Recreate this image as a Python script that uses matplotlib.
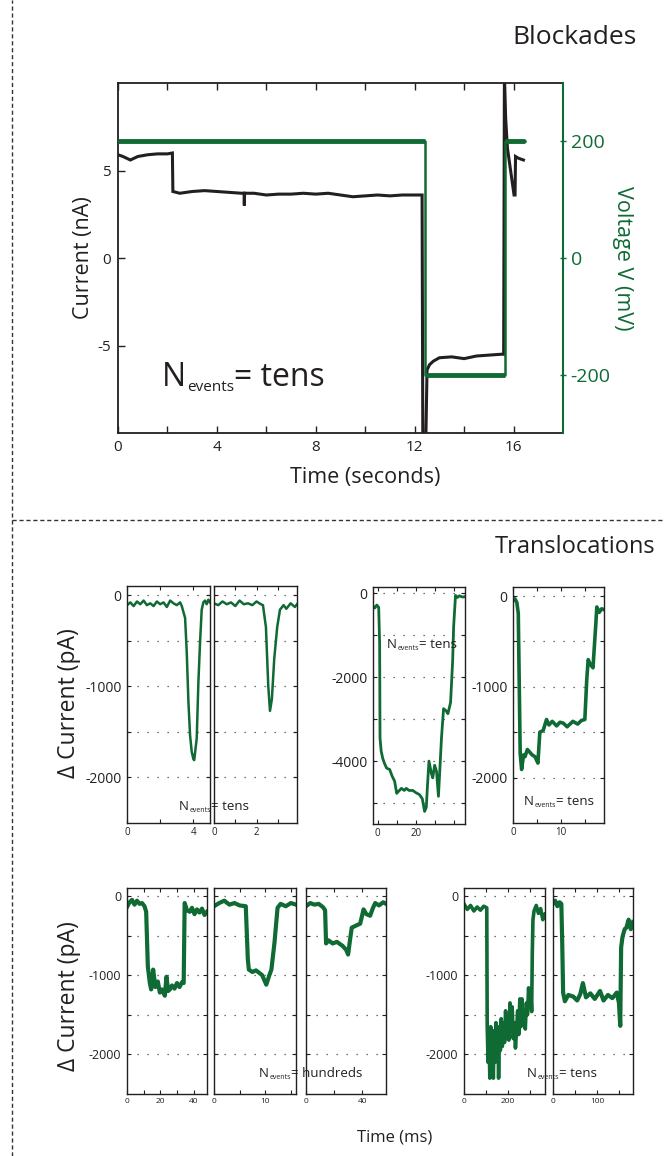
import matplotlib
matplotlib.use('Agg')
import matplotlib.pyplot as plt
from matplotlib.lines import Line2D
from matplotlib.transforms import IdentityTransform

plt.rcParams['font.family'] = ['Open Sans', 'DejaVu Sans']
plt.rcParams['axes.unicode_minus'] = False

# ---------------- data ----------------
# Blockades panel
blk_t = [0, 0.2, 0.5, 0.8, 1.2, 1.6, 2.0, 2.2, 2.22, 2.5, 3.0, 3.5, 4.0, 4.5, 5.0, 5.1, 5.11, 5.12, 5.5,
         6.0, 6.5, 7.0, 7.5, 8.0, 8.5, 9.0, 9.5, 10.0, 10.5, 11.0, 11.5, 12.0, 12.3, 12.33, 12.45, 12.5,
         12.6, 12.75, 13.0, 13.5, 14.0, 14.5, 15.0, 15.5, 15.6, 15.63, 15.68, 15.75, 15.85, 15.95, 16.02,
         16.06, 16.08, 16.2, 16.4]
blk_i = [5.9, 5.8, 5.6, 5.8, 5.9, 5.95, 5.95, 6.0, 3.8, 3.7, 3.8, 3.85, 3.8, 3.75, 3.7, 3.7, 3.0, 3.7, 3.7,
         3.6, 3.65, 3.65, 3.7, 3.65, 3.7, 3.6, 3.5, 3.55, 3.6, 3.55, 3.6, 3.6, 3.6, -10.5, -10.5, -6.4,
         -6.1, -5.9, -5.7, -5.65, -5.75, -5.6, -5.55, -5.5, -5.5, 10.5, 8.0, 6.3, 5.3, 4.3, 3.6,
         3.6, 5.8, 5.7, 5.6]
volt_t = [0, 12.4, 12.4, 15.65, 15.65, 16.45]
volt_v = [200, 200, -200, -200, 200, 200]
blk_xticks = [0, 2, 4, 6, 8, 10, 12, 14, 16]
blk_xlabels = ['0', '', '4', '', '8', '', '12', '', '16']
blk_yticks = [-5, 0, 5]
volt_ticks = [-200, 0, 200]

# Translocation panels
a1_t = [0, 0.2, 0.4, 0.6, 0.8, 1.0, 1.2, 1.4, 1.6, 1.8, 2.0, 2.2, 2.4, 2.6, 2.8, 3.0, 3.2, 3.3, 3.5, 3.6,
        3.7, 3.8, 3.9, 4.0, 4.05, 4.2, 4.3, 4.4, 4.5, 4.6, 4.7, 4.8, 4.9, 5.0]
a1_v = [-110, -80, -120, -70, -100, -60, -110, -90, -120, -70, -100, -80, -130, -60, -90, -110, -80, -120,
        -250, -630, -1170, -1540, -1720, -1800, -1810, -1570, -960, -520, -160, -80, -60, -100, -50, -80]
a2_t = [0, 0.2, 0.4, 0.6, 0.8, 1.0, 1.2, 1.4, 1.6, 1.8, 2.0, 2.2, 2.3, 2.44, 2.55, 2.63, 2.72, 2.83, 2.97,
        3.1, 3.27, 3.4, 3.6, 3.8, 3.9]
a2_v = [-90, -110, -70, -100, -80, -120, -60, -100, -90, -110, -70, -100, -110, -350, -1000, -1270, -1140,
        -700, -350, -160, -110, -150, -90, -130, -100]
b_t = [-2.5, -1.5, -0.5, 0.5, 1.0, 1.2, 1.8, 2.6, 3.5, 4.7, 6.3, 7.5, 8.9, 10, 11, 12.5, 14, 15, 16.5,
       18.5, 20, 22, 23.5, 24.7, 25.6, 26.2, 27, 28.3, 29, 30, 31, 32, 33.6, 34.7, 36, 37, 38.4, 39.5, 40,
       41, 42, 43, 44.7, 46]
b_v = [-300, -350, -280, -335, -1200, -3450, -3760, -3930, -4050, -4170, -4200, -4350, -4480, -4770, -4720,
       -4650, -4700, -4650, -4700, -4700, -4750, -4800, -4900, -5200, -5100, -4600, -4000, -4300, -4400,
       -4100, -4250, -4840, -3450, -2750, -2800, -2870, -2600, -1600, -800, -50, -100, -60, -90, -80]
c_t = [0, 0.4, 0.8, 1.1, 1.5, 1.8, 2.2, 2.5, 3.0, 3.5, 4.0, 4.6, 5.2, 5.6, 6.3, 7.0, 7.5, 8.2, 9.1, 9.8,
       10.5, 11.3, 12.5, 13.5, 14.3, 15.0, 15.4, 15.7, 16.1, 16.7, 17.3, 17.5, 18.0, 18.5, 19.0]
c_v = [-50, -30, -70, -190, -1730, -1910, -1750, -1770, -1690, -1720, -1750, -1770, -1840, -1500, -1480,
       -1360, -1420, -1380, -1430, -1390, -1400, -1440, -1380, -1410, -1370, -1360, -920, -700, -750, -790,
       -300, -120, -180, -140, -150]
d1_t = [0, 1.5, 3, 4.5, 6, 7.5, 9, 10.5, 11.5, 12.5, 13.7, 14.5, 15.7, 17, 18.5, 19.7, 21, 22.7, 23.7,
        24.7, 25.7, 27, 28.5, 30, 31.5, 33, 34, 34.6, 36, 37.6, 39, 40.5, 42, 43.5, 45, 46.5, 48]
d1_v = [-140, -80, -50, -110, -60, -100, -90, -130, -200, -890, -1100, -1180, -930, -1150, -1080, -1220,
        -1180, -1260, -1020, -1200, -1180, -1130, -1170, -1100, -1150, -1090, -1100, -90, -180, -200, -150,
        -230, -170, -210, -160, -240, -200]
d2_t = [0, 1, 2, 3, 4, 5, 6.2, 6.6, 6.8, 7.5, 8.2, 9.0, 9.4, 10.2, 10.8, 11.2, 11.8, 12.4, 13, 14, 15, 16]
d2_v = [-130, -90, -60, -110, -90, -120, -130, -800, -930, -960, -940, -980, -1000, -1120, -1000, -930,
        -590, -150, -100, -130, -90, -110]
d3_t = [0, 3, 6, 9, 12, 13.6, 14.3, 16, 19, 22, 26, 28.6, 30, 31.4, 32.6, 35, 38.6, 41, 43, 45.7, 47.5,
        49.3, 52, 55, 57]
d3_v = [-130, -90, -110, -100, -140, -180, -600, -560, -600, -580, -630, -680, -740, -550, -400, -380,
        -350, -170, -230, -250, -160, -90, -120, -80, -100]
e1_t = [0, 15, 30, 45, 60, 75, 90, 104, 106, 110, 114, 118, 122, 126, 130, 134, 138, 142, 146, 150, 154,
        158, 162, 166, 170, 175, 180, 185, 190, 195, 200, 205, 210, 215, 220, 225, 230, 235, 240, 245, 250,
        255, 260, 265, 270, 275, 280, 285, 290, 295, 300, 305, 309, 312, 315, 320, 330, 340, 350, 360, 370]
e1_v = [-100, -170, -120, -190, -140, -180, -130, -150, -1640, -2100, -1750, -2300, -1650, -2150, -1800,
        -2300, -1700, -2100, -1600, -2000, -1650, -2300, -1750, -1950, -1550, -1900, -1600, -1850, -1450,
        -1800, -1550, -1820, -1350, -1700, -1400, -1800, -1600, -1920, -1700, -1450, -1750, -1300, -1650,
        -1300, -1600, -1450, -1680, -1350, -1500, -1160, -1400, -1200, -1460, -720, -300, -190, -120, -220,
        -160, -300, -230]
e2_t = [0, 5, 10, 15, 19, 21, 23, 27, 35, 46, 55, 62, 68, 75, 85, 95, 107, 115, 125, 135, 145, 150, 153,
        155, 158, 163, 167, 172, 177, 182]
e2_v = [-100, -60, -130, -80, -100, -600, -1220, -1330, -1250, -1270, -1320, -1240, -1100, -1280, -1230,
        -1300, -1200, -1320, -1250, -1290, -1220, -1350, -1640, -650, -520, -420, -400, -300, -420, -330]

GREEN = '#0f6a34'
DARK = '#231f20'

W, H = 664, 1156
fig = plt.figure(figsize=(W / 100, H / 100), dpi=100)


def add_ax(l, r, t, b):
    return fig.add_axes([l / W, 1 - b / H, (r - l) / W, (b - t) / H])


def ftext(x, y, s, **kw):
    return fig.text(x / W, 1 - y / H, s, **kw)


# dashed frame lines
fig.add_artist(Line2D([12 / W, 12 / W], [0, 1], transform=fig.transFigure, color='#333333',
                      lw=1.0, dashes=(3, 2)))
fig.add_artist(Line2D([12 / W, 1], [1 - 520 / H, 1 - 520 / H], transform=fig.transFigure,
                      color='#333333', lw=1.0, dashes=(3, 2)))

# ---------------- Blockades panel ----------------
ax = add_ax(118, 563, 83, 433)
ax.plot(blk_t, blk_i, color=DARK, lw=2.2, solid_joinstyle='miter')
ax.set_xlim(0, 18)
ax.set_ylim(-10, 10)
ax.set_xticks(blk_xticks)
ax.set_xticklabels(blk_xlabels)
ax.set_yticks(blk_yticks)
ax.tick_params(direction='in', length=5, width=1, labelsize=11, top=True, pad=5, colors=DARK)
for s in ['left', 'bottom', 'top']:
    ax.spines[s].set_linewidth(1.3)
    ax.spines[s].set_color(DARK)
ax.spines['right'].set_visible(False)

ax2 = ax.twinx()
ax2.plot(volt_t, volt_v, color=GREEN, lw=1.8)
for i in range(0, len(volt_t), 2):
    ax2.plot(volt_t[i:i + 2], volt_v[i:i + 2], color=GREEN, lw=3.5, solid_capstyle='butt')
ax2.set_ylim(-300, 300)
ax2.set_yticks(volt_ticks)
ax2.tick_params(axis='y', direction='inout', length=5, width=1, labelsize=14, colors=GREEN, pad=3)
for s in ['left', 'bottom', 'top']:
    ax2.spines[s].set_visible(False)
ax2.spines['right'].set_color(GREEN)
ax2.spines['right'].set_linewidth(1.5)

ftext(84, 258, 'Current (nA)', rotation=90, ha='center', va='center', fontsize=15.5, color=DARK)
ftext(365, 477, 'Time (seconds)', ha='center', va='center', fontsize=15.5, color=DARK)
ftext(622, 258, 'Voltage V (mV)', rotation=270, ha='center', va='center', fontsize=15.5, color=GREEN)
ftext(637, 38, 'Blockades', ha='right', va='center', fontsize=19, color=DARK)
ftext(655, 547, 'Translocations', ha='right', va='center', fontsize=17, color=DARK)

# ---------------- Translocation panels ----------------
def panel(l, r, t, b, tt, vv, xlim, ylim, xticks, xlabels, yticks, ylabels, xls, yls, lw):
    a = add_ax(l, r, t, b)
    a.plot(tt, vv, color=GREEN, lw=lw, solid_joinstyle='round')
    a.set_xlim(*xlim)
    a.set_ylim(*ylim)
    a.set_xticks(xticks)
    a.set_xticklabels(xlabels)
    a.set_yticks(yticks)
    if ylabels is None:
        a.set_yticklabels([''] * len(yticks))
    else:
        a.set_yticklabels(ylabels)
    a.tick_params(direction='in', length=3, width=0.8, top=True, right=True, colors=DARK)
    a.tick_params(axis='x', labelsize=xls, pad=3)
    a.tick_params(axis='y', labelsize=yls, pad=4)
    a.yaxis.grid(True, linestyle=(0, (1, 7)), color='#444444', lw=0.9)
    for s in a.spines.values():
        s.set_linewidth(1.0)
        s.set_color(DARK)
    return a


yt500 = [-2000, -1500, -1000, -500, 0]
yl500 = ['-2000', '', '-1000', '', '0']

panel(127, 210, 586, 823, a1_t, a1_v, (0, 5), (-2500, 100), [0, 2, 4], ['0', '', '4'], yt500, yl500, 7, 10, 1.8)
panel(214, 297, 586, 823, a2_t, a2_v, (0, 3.9), (-2500, 100), [0, 1, 2, 3], ['0', '', '2', ''], yt500, None, 7, 10, 1.8)
panel(373, 465, 587, 824, b_t, b_v, (-2.5, 46), (-5500, 150), [0, 10, 20, 30, 40], ['0', '', '20', '', ''],
      [-5000, -4000, -3000, -2000, -1000, 0], ['', '-4000', '', '-2000', '', '0'], 7, 10, 2.0)
panel(513, 604, 587, 823, c_t, c_v, (0, 19), (-2500, 100), [0, 5, 10, 15], ['0', '', '10', ''], yt500, yl500, 7, 10, 2.6)
panel(127, 207, 888, 1094, d1_t, d1_v, (0, 48), (-2500, 100), [0, 10, 20, 30, 40], ['0', '', '20', '', '40'], yt500, yl500, 6, 9, 3.0)
panel(214, 296, 888, 1094, d2_t, d2_v, (0, 16), (-2500, 100), [0, 5, 10, 15], ['0', '', '10', ''], yt500, None, 6, 9, 3.0)
panel(306, 386, 888, 1094, d3_t, d3_v, (0, 57), (-2500, 100), [0, 20, 40], ['0', '', '40'], yt500, None, 6, 9, 3.0)
panel(464, 545, 888, 1094, e1_t, e1_v, (0, 370), (-2500, 100), [0, 100, 200, 300], ['0', '', '200', ''], yt500, yl500, 6, 9, 2.6)
panel(553, 633, 888, 1094, e2_t, e2_v, (0, 182), (-2500, 100), [0, 50, 100, 150], ['0', '', '100', ''], yt500, None, 6, 9, 3.0)

ftext(69, 703, '\u0394 Current (pA)', rotation=90, ha='center', va='center', fontsize=16.5, color=DARK)
ftext(69, 996, '\u0394 Current (pA)', rotation=90, ha='center', va='center', fontsize=16.5, color=DARK)
ftext(395, 1137, 'Time (ms)', ha='center', va='center', fontsize=12, color=DARK)

# ---------------- N_events annotations ----------------
renderer = fig.canvas.get_renderer()


def nevents(x, y, big, small, rest, drop):
    t1 = ftext(x, y, 'N', fontsize=big, ha='left', va='baseline', color=DARK)
    bb = t1.get_window_extent(renderer)
    t2 = fig.text(bb.x1 + 0.5, (H - y) - drop, 'events', fontsize=small, ha='left', va='baseline',
                  transform=IdentityTransform(), color=DARK)
    bb2 = t2.get_window_extent(renderer)
    fig.text(bb2.x1 + 0.5, H - y, rest, fontsize=big, ha='left', va='baseline',
             transform=IdentityTransform(), color=DARK)


nevents(162, 386, 23, 11, '= tens', 5)
nevents(179, 810, 9.5, 5, '= tens', 2)
nevents(387, 648, 9.5, 5, '= tens', 2)
nevents(524, 805, 9.5, 5, '= tens', 2)
nevents(259, 1077, 9.5, 5, '= hundreds', 2)
nevents(527, 1077, 9.5, 5, '= tens', 2)

fig.savefig('out.png', dpi=100)
